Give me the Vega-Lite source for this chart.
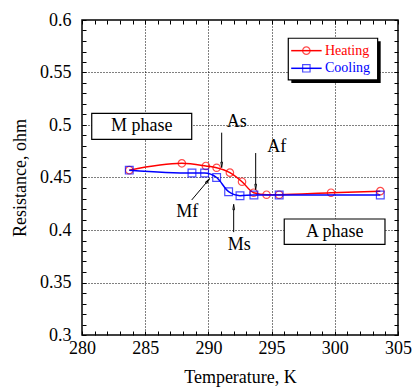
{
  "$schema": "https://vega.github.io/schema/vega-lite/v6.json",
  "width": 316,
  "height": 315,
  "autosize": "none",
  "padding": {"left": 82, "top": 20, "right": 16, "bottom": 54},
  "config": {
    "font": "Liberation Serif",
    "view": {"stroke": "black", "strokeWidth": 1.5}
  },
  "datasets": {
    "heating": [
      {"T": 283.74, "R": 0.457},
      {"T": 287.9, "R": 0.4635},
      {"T": 289.8, "R": 0.461},
      {"T": 290.65, "R": 0.4593},
      {"T": 291.7, "R": 0.4546},
      {"T": 292.66, "R": 0.446},
      {"T": 293.58, "R": 0.4355},
      {"T": 294.6, "R": 0.4336},
      {"T": 295.6, "R": 0.4336},
      {"T": 299.7, "R": 0.4355},
      {"T": 303.6, "R": 0.437}
    ],
    "cooling": [
      {"T": 283.74, "R": 0.457},
      {"T": 288.7, "R": 0.4543},
      {"T": 289.7, "R": 0.4543},
      {"T": 290.65, "R": 0.45},
      {"T": 291.6, "R": 0.4365},
      {"T": 292.5, "R": 0.4327},
      {"T": 293.6, "R": 0.4333},
      {"T": 295.6, "R": 0.4333},
      {"T": 303.6, "R": 0.4333}
    ],
    "boxes": [
      {"name": "M phase", "x": 280.77, "x2": 288.68, "y": 0.5111, "y2": 0.4864},
      {"name": "A phase", "x": 296.0, "x2": 303.97, "y": 0.4105, "y2": 0.3864}
    ],
    "legendbox": [
      {"x": 296.32, "x2": 303.39, "y": 0.5826, "y2": 0.5429}
    ],
    "legendshadow": [
      {"x": 296.56, "x2": 303.63, "y": 0.5797, "y2": 0.5400}
    ],
    "legenditems": [
      {"series": "Heating", "x": 296.55, "x2": 298.96, "xm": 297.75, "xt": 299.22, "y": 0.5708},
      {"series": "Cooling", "x": 296.55, "x2": 298.96, "xm": 297.75, "xt": 299.22, "y": 0.554}
    ],
    "labels": [
      {"text": "As", "x": 292.24, "y": 0.503},
      {"text": "Af", "x": 295.4, "y": 0.479},
      {"text": "Mf", "x": 288.33, "y": 0.4174},
      {"text": "Ms", "x": 292.44, "y": 0.3857},
      {"text": "M phase", "x": 284.72, "y": 0.4988},
      {"text": "A phase", "x": 300.0, "y": 0.3984}
    ],
    "arrows": [
      {"name": "As", "x": 291.05, "y": 0.4927, "x2": 291.05, "y2": 0.4629, "angle": 180},
      {"name": "Af", "x": 293.74, "y": 0.4733, "x2": 293.74, "y2": 0.4419, "angle": 180},
      {"name": "Ms", "x": 292.0, "y": 0.398, "x2": 292.0, "y2": 0.421, "angle": 0},
      {"name": "Mf", "x": 288.68, "y": 0.4286, "x2": 289.92, "y2": 0.4463, "angle": 40}
    ]
  },
  "layer": [
    {
      "layer": [
        {
          "data": {"name": "heating"},
          "mark": {"type": "line", "color": "#ff0000", "strokeWidth": 1.5, "interpolate": "monotone"},
          "encoding": {
            "x": {
              "field": "T", "type": "quantitative",
              "scale": {"domain": [280, 305], "nice": false, "zero": false},
              "title": "Temperature, K",
              "axis": {
                "values": [280,281,282,283,284,285,286,287,288,289,290,291,292,293,294,295,296,297,298,299,300,301,302,303,304,305],
                "tickCount": 200,
                "format": "d",
                "labelExpr": "datum.value % 5 === 0 ? datum.label : ''",
                "domain": false,
                "ticks": true,
                "tickColor": "black",
                "tickSize": -4,
                "tickWidth": 1,
                "grid": true,
                "gridColor": "black",
                "gridDash": [1, 2],
                "gridOpacity": {"condition": {"test": "datum.value % 5 === 0 && datum.value > 280 && datum.value < 305", "value": 1}, "value": 0},
                "labelFontSize": 18,
                "labelColor": "black",
                "labelPadding": 8,
                "labelFlush": false,
                "labelOverlap": false,
                "titleFontSize": 18,
                "titleFontWeight": "normal",
                "titleColor": "black",
                "titlePadding": 11
              }
            },
            "y": {
              "field": "R", "type": "quantitative",
              "scale": {"domain": [0.3, 0.6], "nice": false, "zero": false},
              "title": "Resistance, ohm",
              "axis": {
                "values": [0.3,0.31,0.32,0.33,0.34,0.35,0.36,0.37,0.38,0.39,0.4,0.41,0.42,0.43,0.44,0.45,0.46,0.47,0.48,0.49,0.5,0.51,0.52,0.53,0.54,0.55,0.56,0.57,0.58,0.59,0.6],
                "tickCount": 200,
                "format": ".2~f",
                "labelExpr": "round(datum.value * 100) % 5 === 0 ? datum.label : ''",
                "domain": false,
                "ticks": true,
                "tickColor": "black",
                "tickSize": -4,
                "tickWidth": 1,
                "grid": true,
                "gridColor": "black",
                "gridDash": [1, 2],
                "gridOpacity": {"condition": {"test": "round(datum.value * 100) % 5 === 0 && datum.value > 0.301 && datum.value < 0.599", "value": 1}, "value": 0},
                "labelFontSize": 18,
                "labelColor": "black",
                "labelPadding": 15,
                "labelFlush": false,
                "labelOverlap": false,
                "titleFontSize": 18,
                "titleFontWeight": "normal",
                "titleColor": "black",
                "titlePadding": 10
              }
            }
          }
        },
        {
          "data": {"name": "heating"},
          "mark": {"type": "point", "shape": "circle", "color": "#ff0000", "filled": false, "size": 55, "strokeWidth": 1.2},
          "encoding": {
            "x": {"field": "T", "type": "quantitative"},
            "y": {"field": "R", "type": "quantitative"}
          }
        },
        {
          "data": {"name": "cooling"},
          "mark": {"type": "line", "color": "#0000ff", "strokeWidth": 1.5, "interpolate": "monotone"},
          "encoding": {
            "x": {"field": "T", "type": "quantitative"},
            "y": {"field": "R", "type": "quantitative"}
          }
        },
        {
          "data": {"name": "cooling"},
          "mark": {"type": "point", "shape": "square", "color": "#0000ff", "filled": false, "size": 60, "strokeWidth": 1.2},
          "encoding": {
            "x": {"field": "T", "type": "quantitative"},
            "y": {"field": "R", "type": "quantitative"}
          }
        },
        {
          "data": {"name": "boxes"},
          "mark": {"type": "rect", "fill": "white", "stroke": "black", "strokeWidth": 1.2},
          "encoding": {
            "x": {"field": "x", "type": "quantitative"},
            "x2": {"field": "x2"},
            "y": {"field": "y", "type": "quantitative"},
            "y2": {"field": "y2"}
          }
        },
        {
          "data": {"name": "legendshadow"},
          "mark": {"type": "rect", "fill": "black"},
          "encoding": {
            "x": {"field": "x", "type": "quantitative"},
            "x2": {"field": "x2"},
            "y": {"field": "y", "type": "quantitative"},
            "y2": {"field": "y2"}
          }
        },
        {
          "data": {"name": "legendbox"},
          "mark": {"type": "rect", "fill": "white", "stroke": "black", "strokeWidth": 1.2},
          "encoding": {
            "x": {"field": "x", "type": "quantitative"},
            "x2": {"field": "x2"},
            "y": {"field": "y", "type": "quantitative"},
            "y2": {"field": "y2"}
          }
        },
        {
          "data": {"name": "legenditems"},
          "mark": {"type": "rule", "strokeWidth": 1.5},
          "encoding": {
            "x": {"field": "x", "type": "quantitative"},
            "x2": {"field": "x2"},
            "y": {"field": "y", "type": "quantitative"},
            "color": {"field": "series", "type": "nominal", "scale": {"domain": ["Heating", "Cooling"], "range": ["#ff0000", "#0000ff"]}, "legend": null}
          }
        },
        {
          "data": {"name": "legenditems"},
          "mark": {"type": "point", "filled": false, "size": 55, "strokeWidth": 1.2},
          "encoding": {
            "x": {"field": "xm", "type": "quantitative"},
            "y": {"field": "y", "type": "quantitative"},
            "color": {"field": "series", "type": "nominal", "legend": null},
            "shape": {"field": "series", "type": "nominal", "scale": {"domain": ["Heating", "Cooling"], "range": ["circle", "square"]}, "legend": null}
          }
        },
        {
          "data": {"name": "legenditems"},
          "mark": {"type": "text", "align": "left", "baseline": "middle", "fontSize": 14, "font": "Liberation Serif"},
          "encoding": {
            "x": {"field": "xt", "type": "quantitative"},
            "y": {"field": "y", "type": "quantitative"},
            "text": {"field": "series"},
            "color": {"field": "series", "type": "nominal", "legend": null}
          }
        },
        {
          "data": {"name": "arrows"},
          "mark": {"type": "rule", "color": "black", "strokeWidth": 1},
          "encoding": {
            "x": {"field": "x", "type": "quantitative"},
            "x2": {"field": "x2"},
            "y": {"field": "y", "type": "quantitative"},
            "y2": {"field": "y2"}
          }
        },
        {
          "data": {"name": "arrows"},
          "mark": {"type": "point", "shape": "wedge", "filled": true, "fill": "white", "stroke": "black", "strokeWidth": 1, "size": 40, "opacity": 1},
          "encoding": {
            "x": {"field": "x2", "type": "quantitative"},
            "y": {"field": "y2", "type": "quantitative"},
            "angle": {"field": "angle", "type": "quantitative", "scale": null}
          }
        },
        {
          "data": {"name": "labels"},
          "mark": {"type": "text", "align": "center", "baseline": "middle", "fontSize": 18, "font": "Liberation Serif", "color": "black"},
          "encoding": {
            "x": {"field": "x", "type": "quantitative"},
            "y": {"field": "y", "type": "quantitative"},
            "text": {"field": "text"}
          }
        }
      ]
    },
    {
      "data": {"name": "heating"},
      "mark": {"type": "point", "opacity": 0},
      "encoding": {
        "x": {
          "field": "T", "type": "quantitative",
          "axis": {
            "orient": "top",
            "values": [280,281,282,283,284,285,286,287,288,289,290,291,292,293,294,295,296,297,298,299,300,301,302,303,304,305],
            "tickCount": 200,
            "labels": false, "domain": false, "grid": false, "title": null,
            "ticks": true,
            "tickColor": "black",
            "tickSize": -4,
            "tickWidth": 1
          }
        },
        "y": {
          "field": "R", "type": "quantitative",
          "axis": {
            "orient": "right",
            "values": [0.3,0.31,0.32,0.33,0.34,0.35,0.36,0.37,0.38,0.39,0.4,0.41,0.42,0.43,0.44,0.45,0.46,0.47,0.48,0.49,0.5,0.51,0.52,0.53,0.54,0.55,0.56,0.57,0.58,0.59,0.6],
            "tickCount": 200,
            "labels": false, "domain": false, "grid": false, "title": null,
            "ticks": true,
            "tickColor": "black",
            "tickSize": -4,
            "tickWidth": 1
          }
        }
      }
    }
  ],
  "resolve": {"axis": {"x": "independent", "y": "independent"}}
}
